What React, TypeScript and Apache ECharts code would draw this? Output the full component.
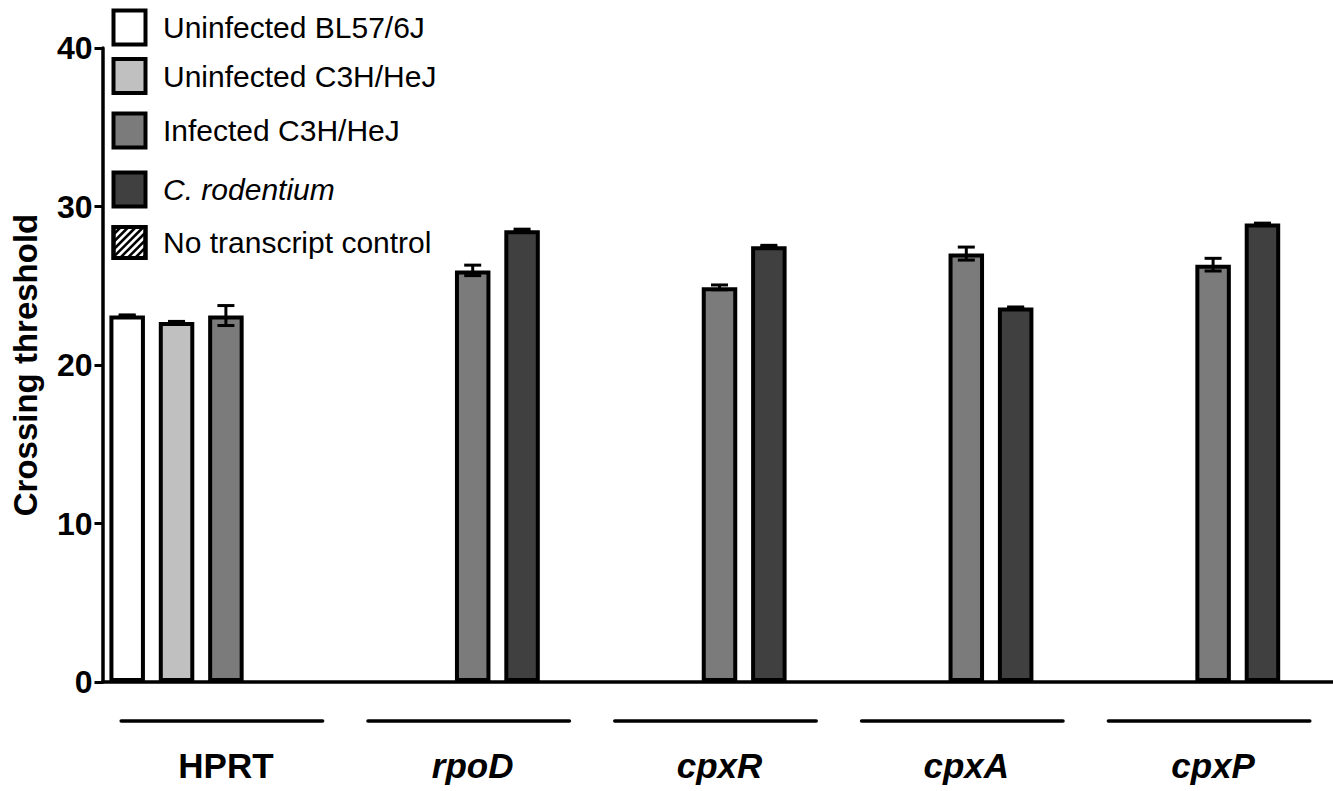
import React, { useEffect, useRef } from "react";
import * as echarts from "echarts";

const genes = ["HPRT", "rpoD", "cpxR", "cpxA", "cpxP"];
const seriesNames = [
  "Uninfected BL57/6J",
  "Uninfected C3H/HeJ",
  "Infected C3H/HeJ",
  "C. rodentium",
  "No transcript control",
];
const seriesColors = ["#ffffff", "#c0c0c0", "#7b7b7b", "#404040", "#ffffff"];

// per gene values (null = not measured)
const uninfectedBL = [23.13, null, null, null, null];
const uninfectedBLSd = [0.03, null, null, null, null];
const uninfectedC3H = [22.72, null, null, null, null];
const uninfectedC3HSd = [0.03, null, null, null, null];
const infectedC3H = [23.12, 25.97, 24.9, 27.03, 26.33];
const infectedC3HSd = [0.63, 0.33, 0.15, 0.41, 0.4];
const cRodentium = [null, 28.5, 27.5, 23.63, 28.92];
const cRodentiumSd = [null, 0.07, 0.05, 0.03, 0.03];
const noTranscript = [null, null, null, null, null];
const noTranscriptSd = [null, null, null, null, null];

const yTicks = [0, 10, 20, 30, 40];

const FONT = '"Liberation Sans", Arial, Helvetica, sans-serif';

export default function App() {
  const ref = useRef<HTMLDivElement>(null);

  useEffect(() => {
    if (!ref.current) return;
    const chart = echarts.init(ref.current, undefined, { renderer: "svg" });

    const means = [uninfectedBL, uninfectedC3H, infectedC3H, cRodentium, noTranscript];
    const sds = [uninfectedBLSd, uninfectedC3HSd, infectedC3HSd, cRodentiumSd, noTranscriptSd];
    const nS = seriesNames.length;

    const categories: string[] = [];
    genes.forEach((g) => {
      for (let s = 0; s < nS; s++) categories.push(`${g}-${s + 1}`);
    });

    const barSeries = means.map((vals, s) => {
      const data: (number | null)[] = categories.map(() => null);
      vals.forEach((v, g) => {
        data[g * nS + s] = v;
      });
      return {
        name: seriesNames[s],
        type: "bar",
        data,
        barWidth: 35.5,
        barGap: "-100%",
        itemStyle: {
          color: seriesColors[s],
          borderColor: "#000",
          borderWidth: 4,
        },
        z: 2,
      };
    });

    const errData: number[][] = [];
    means.forEach((vals, s) => {
      vals.forEach((v, g) => {
        const sd = sds[s][g];
        if (v != null && sd != null) errData.push([g * nS + s, v, sd]);
      });
    });

    const lineData = genes.map((_, g) => [g * nS, g * nS + nS - 1, 0]);

    // legend graphics
    const legendRows = [
      { cy: 27.5, size: 34 },
      { cy: 76, size: 34 },
      { cy: 130.5, size: 34 },
      { cy: 189.5, size: 34 },
      { cy: 242.5, size: 31 },
    ];
    const graphics: any[] = [];
    legendRows.forEach((r, i) => {
      const x0 = 113.5;
      const y0 = r.cy - r.size / 2;
      graphics.push({
        type: "rect",
        shape: { x: x0, y: y0, width: 32, height: r.size },
        style: { fill: seriesColors[i], stroke: "#000", lineWidth: 4 },
        z: 10,
      });
      if (i === 4) {
        const x1 = x0 + 32;
        const y1 = y0 + r.size;
        const step = 7.5;
        for (let k = x0 + y0 + step; k < x1 + y1; k += step) {
          const pts: number[][] = [];
          const cand = [
            [x0, k - x0],
            [x1, k - x1],
            [k - y0, y0],
            [k - y1, y1],
          ];
          cand.forEach((p) => {
            if (p[0] >= x0 - 0.01 && p[0] <= x1 + 0.01 && p[1] >= y0 - 0.01 && p[1] <= y1 + 0.01) pts.push(p);
          });
          if (pts.length >= 2) {
            pts.sort((a, b) => a[0] - b[0]);
            const a = pts[0];
            const b = pts[pts.length - 1];
            graphics.push({
              type: "line",
              shape: { x1: a[0], y1: a[1], x2: b[0], y2: b[1] },
              style: { stroke: "#000", lineWidth: 2.5 },
              z: 11,
            });
          }
        }
        graphics.push({
          type: "rect",
          shape: { x: x0, y: y0, width: 32, height: r.size },
          style: { fill: "none", stroke: "#000", lineWidth: 4 },
          z: 12,
        });
      }
      graphics.push({
        type: "text",
        x: 163,
        y: r.cy,
        style: {
          text: seriesNames[i],
          fontSize: 30,
          fontFamily: FONT,
          fontStyle: i === 3 ? "italic" : "normal",
          fill: "#000",
          verticalAlign: "middle",
          align: "left",
        },
        z: 10,
      });
    });

    const option: any = {
      animation: false,
      backgroundColor: "#fff",
      grid: { left: 102.5, right: 8.5, top: 48, bottom: 109, containLabel: false },
      xAxis: [
        {
          type: "category",
          data: categories,
          boundaryGap: true,
          axisLine: { lineStyle: { color: "#000", width: 3.5 } },
          axisTick: { alignWithLabel: true, length: 9, lineStyle: { color: "#000", width: 3 } },
          axisLabel: { show: false },
          splitLine: { show: false },
        },
        {
          type: "category",
          data: genes,
          position: "bottom",
          boundaryGap: true,
          axisLine: { show: false },
          axisTick: { show: false },
          axisLabel: {
            margin: 66,
            formatter: (v: string) => (v === "HPRT" ? `{n|${v}}` : `{i|${v}}`),
            rich: {
              n: { fontSize: 35, fontWeight: "bold", fontFamily: FONT, color: "#000" },
              i: { fontSize: 35, fontWeight: "bold", fontStyle: "italic", fontFamily: FONT, color: "#000" },
            },
          },
        },
      ],
      yAxis: {
        type: "value",
        min: yTicks[0],
        max: yTicks[yTicks.length - 1],
        interval: 10,
        name: "Crossing threshold",
        nameLocation: "middle",
        nameGap: 61,
        nameTextStyle: { fontSize: 33, fontWeight: "bold", fontFamily: FONT, color: "#000" },
        axisLine: { show: true, lineStyle: { color: "#000", width: 3.5 } },
        axisTick: { show: true, length: 8, lineStyle: { color: "#000", width: 3 } },
        axisLabel: { margin: 10, fontSize: 32, fontWeight: "bold", fontFamily: FONT, color: "#000" },
        splitLine: { show: false },
      },
      series: [
        ...barSeries,
        {
          type: "custom",
          name: "errors",
          data: errData,
          encode: { x: 0, y: 1 },
          z: 5,
          silent: true,
          renderItem: (params: any, api: any) => {
            const x = api.value(0);
            const m = api.value(1);
            const sd = api.value(2);
            const top = api.coord([x, m + sd]);
            const bot = api.coord([x, m - sd]);
            const cx = top[0];
            const hw = 8.5;
            const style = { stroke: "#000", lineWidth: 3 };
            return {
              type: "group",
              children: [
                { type: "line", shape: { x1: cx, y1: top[1], x2: cx, y2: bot[1] }, style },
                { type: "line", shape: { x1: cx - hw, y1: top[1], x2: cx + hw, y2: top[1] }, style },
                { type: "line", shape: { x1: cx - hw, y1: bot[1], x2: cx + hw, y2: bot[1] }, style },
              ],
            };
          },
        },
        {
          type: "custom",
          name: "groupLines",
          data: lineData,
          encode: { x: [0, 1], y: 2 },
          z: 5,
          silent: true,
          clip: false,
          renderItem: (params: any, api: any) => {
            const a = api.coord([api.value(0), 0]);
            const b = api.coord([api.value(1), 0]);
            const y = a[1] + 39;
            return {
              type: "line",
              shape: { x1: a[0] - 6, y1: y, x2: b[0] - 2, y2: y },
              style: { stroke: "#000", lineWidth: 3.5, lineCap: "round" },
            };
          },
        },
      ],
      graphic: graphics,
    };

    chart.setOption(option);
    return () => chart.dispose();
  }, []);

  return (
    <div
      ref={ref}
      style={{ position: "fixed", left: 0, top: 0, width: 1345, height: 791, background: "#fff" }}
    />
  );
}
